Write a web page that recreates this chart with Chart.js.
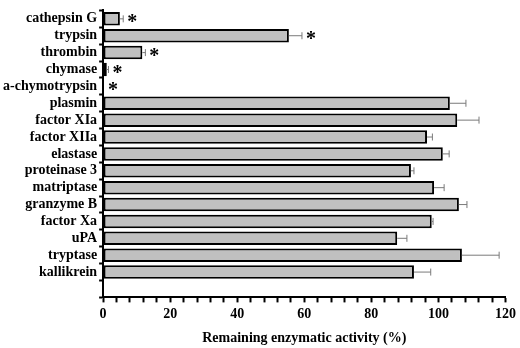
<!DOCTYPE html>
<html lang="en">
<head>
    <meta charset="UTF-8">
    <title>Remaining enzymatic activity</title>
    <script src="https://cdn.jsdelivr.net/npm/chart.js"></script>
    <style>
        html, body { margin: 0; padding: 0; background: #fff; }
        #wrap { width: 520px; height: 348px; }
    </style>
</head>
<body>
    <div id="wrap"><canvas id="chart" width="520" height="348"></canvas></div>
    <script>
        // enzymes, top to bottom (the last empty slot keeps the gap above the x axis)
        const enzymes = ['cathepsin G', 'trypsin', 'thrombin', 'chymase', 'a-chymotrypsin',
            'plasmin', 'factor XIa', 'factor XIIa', 'elastase', 'proteinase 3',
            'matriptase', 'granzyme B', 'factor Xa', 'uPA', 'tryptase', 'kallikrein', ''];
        const activity = [5.0, 55.4, 11.7, 1.1, 0, 103.4, 105.6, 96.6, 101.3, 91.8,
            98.7, 106.1, 98.0, 87.7, 107.0, 92.7, null];
        const errors = [1.0, 3.9, 0.9, 0.5, 0, 4.8, 6.5, 1.6, 1.9, 0.9,
            3.0, 2.4, 0.4, 2.9, 11.1, 5.0, null];
        const significant = [true, true, true, true, true, false, false, false, false, false,
            false, false, false, false, false, false, false];
        const xTicks = [0, 20, 40, 60, 80, 100, 120];

        const serif = '"Liberation Serif", "Times New Roman", serif';

        const errorBars = {
            id: 'errorBars',
            afterDatasetsDraw(chart) {
                const ctx = chart.ctx;
                const x = chart.scales.x;
                const bars = chart.getDatasetMeta(0).data;
                ctx.save();
                bars.forEach((bar, i) => {
                    if (activity[i] === null) return;
                    const y = bar.y;
                    const x0 = x.getPixelForValue(activity[i]);
                    const x1 = x.getPixelForValue(activity[i] + errors[i]);
                    if (errors[i] > 0) {
                        ctx.strokeStyle = '#7a7a7a';
                        ctx.lineWidth = 1;
                        ctx.beginPath();
                        ctx.moveTo(x0, y);
                        ctx.lineTo(x1, y);
                        ctx.moveTo(x1, y - 3.5);
                        ctx.lineTo(x1, y + 3.5);
                        ctx.stroke();
                    }
                    if (significant[i]) {
                        ctx.fillStyle = '#000';
                        ctx.font = 'bold 20px ' + serif;
                        ctx.textAlign = 'left';
                        ctx.textBaseline = 'middle';
                        ctx.fillText('*', Math.max(x1, x0 + 1) + 4, y + 4);
                    }
                });
                ctx.restore();
            }
        };

        new Chart(document.getElementById('chart'), {
            type: 'bar',
            data: {
                labels: enzymes,
                datasets: [{
                    data: activity,
                    backgroundColor: '#c0c0c0',
                    borderColor: '#000',
                    borderWidth: 2,
                    borderSkipped: false,
                    categoryPercentage: 1,
                    barPercentage: 0.8
                }]
            },
            options: {
                indexAxis: 'y',
                responsive: false,
                animation: false,
                layout: { padding: { top: 3, right: 13, left: 1, bottom: 1 } },
                plugins: {
                    legend: { display: false },
                    tooltip: { enabled: false }
                },
                scales: {
                    x: {
                        min: 0,
                        max: 120,
                        ticks: {
                            stepSize: 4,
                            autoSkip: false,
                            maxRotation: 0,
                            padding: 4,
                            color: '#000',
                            font: { family: serif, size: 14, weight: 'bold' },
                            callback: v => xTicks.includes(v) ? v : ''
                        },
                        grid: {
                            drawOnChartArea: false,
                            tickLength: 5,
                            tickWidth: 2,
                            tickColor: '#000'
                        },
                        border: { color: '#000', width: 2 },
                        title: {
                            display: true,
                            text: 'Remaining enzymatic activity (%)',
                            color: '#000',
                            font: { family: serif, size: 14, weight: 'bold' },
                            padding: { top: 3, bottom: 0 }
                        }
                    },
                    y: {
                        ticks: {
                            autoSkip: false,
                            padding: 2,
                            color: '#000',
                            font: { family: serif, size: 14, weight: 'bold' }
                        },
                        grid: {
                            offset: true,
                            drawOnChartArea: false,
                            tickLength: 4,
                            tickWidth: 2,
                            tickColor: '#000'
                        },
                        border: { color: '#000', width: 2 }
                    }
                }
            },
            plugins: [errorBars]
        });
    </script>
</body>
</html>
